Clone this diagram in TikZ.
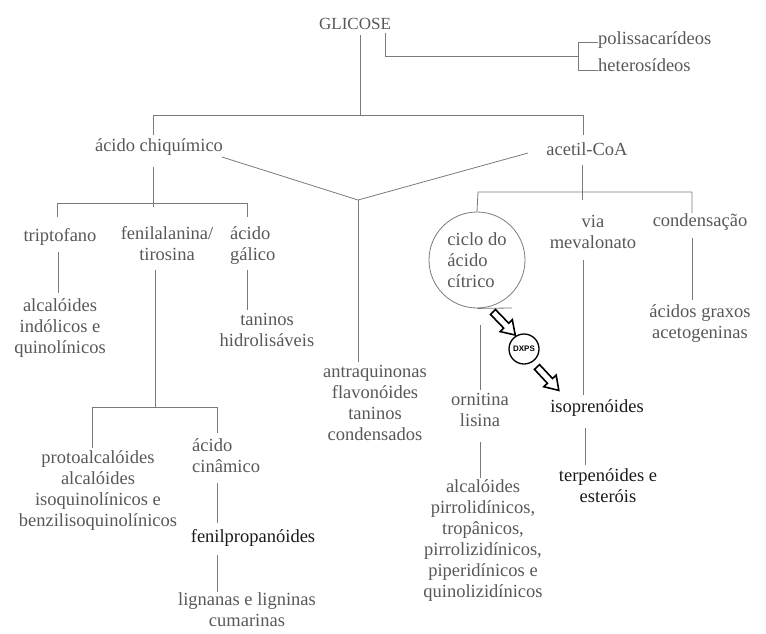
\documentclass[tikz,border=0pt]{standalone}
\usepackage{fontspec}
\setmainfont{Liberation Serif}
\newfontfamily\dxfont{Liberation Sans}
\definecolor{txtgray}{HTML}{585858}
\definecolor{lngray}{HTML}{7A7A7A}
\definecolor{txtdark}{HTML}{1A1A1A}
\begin{document}
\begin{tikzpicture}[x=1pt,y=-1pt,
  lbl/.style={text=txtgray, align=center, inner sep=0pt, font=\fontsize{18.5}{21}\selectfont},
  dark/.style={lbl, text=txtdark},
  conn/.style={draw=lngray, line width=0.8pt},
  harrow/.style={draw=black, fill=white, line width=1.6pt, line join=miter},
  ]
\useasboundingbox (0,0) rectangle (766,633);
% ---------- nodes ----------
\node[lbl, font=\fontsize{17}{20}\selectfont] (glic) at (355,24) {GLICOSE};
\node[lbl, anchor=west] (poli) at (598,40) {polissacarídeos};
\node[lbl, anchor=west] (hete) at (598,65) {heterosídeos};
\node[lbl] (chiq) at (159,147) {ácido chiquímico};
\node[lbl] (acet) at (587,149) {acetil-CoA};
\node[lbl] (trip) at (60,237) {triptofano};
\node[lbl] (feni) at (167,244) {fenilalanina/\\tirosina};
\node[lbl, anchor=west, align=left] (gali) at (230,246) {ácido\\gálico};
\node[lbl] (alcind) at (60,328) {alcalóides\\indólicos e\\quinolínicos};
\node[lbl] (tanh) at (267,330) {taninos\\hidrolisáveis};
\node[lbl] (antra) at (375,403) {antraquinonas\\flavonóides\\taninos\\condensados};
\node[lbl, circle, draw=lngray, line width=0.8pt, minimum size=96pt, align=left] (ciclo) at (477,260) {ciclo do\\ácido\\cítrico};
\node[lbl] (via) at (593,232) {via\\mevalonato};
\node[lbl] (cond) at (700,222) {condensação};
\node[lbl] (acgr) at (700,324) {ácidos graxos\\acetogeninas};
\node[circle, draw=black, line width=1.3pt, minimum size=30pt, inner sep=0pt,
      font=\dxfont\bfseries\fontsize{8}{9}\selectfont] (dxps) at (524,349) {DXPS};
\node[lbl] (orn) at (480,410) {ornitina\\lisina};
\node[dark] (isop) at (597,408) {isoprenóides};
\node[lbl] (alcpir) at (483,541) {alcalóides\\pirrolidínicos,\\tropânicos,\\pirrolizidínicos,\\piperidínicos e\\quinolizidínicos};
\node[dark] (terp) at (608,486) {terpenóides e\\esteróis};
\node[lbl] (proto) at (98,491) {protoalcalóides\\alcalóides\\isoquinolínicos e\\benzilisoquinolínicos};
\node[lbl, anchor=west, align=left] (cina) at (192,456) {ácido\\cinâmico};
\node[dark] (fenp) at (253,538) {fenilpropanóides};
\node[lbl] (lign) at (247,610) {lignanas e ligninas\\cumarinas};
% ---------- junction coordinates ----------
\coordinate (g1) at (360,35);   \coordinate (jtop) at (360,115);
\coordinate (g2) at (385,33);   \coordinate (g2b) at (385,56);  \coordinate (br) at (578,56);
\coordinate (brt) at (578,42);  \coordinate (brb) at (578,70);
\coordinate (tl) at (153,115);  \coordinate (tr) at (583,115);
\coordinate (tlb) at (153,135); \coordinate (trb) at (583,135);
\coordinate (c1) at (153,167);  \coordinate (c2) at (153,207);
\coordinate (hl) at (57,203);   \coordinate (hr) at (247,203);
\coordinate (hlb) at (57,217);  \coordinate (hrb) at (247,217);
\coordinate (d1) at (222,157);  \coordinate (dj) at (358,200);
\coordinate (d2) at (528,153);  \coordinate (dv) at (358,362);
\coordinate (a1) at (582,165);  \coordinate (a2) at (582,200);
\coordinate (al) at (478,192);  \coordinate (ar) at (692,192);
\coordinate (arb) at (692,213);
\coordinate (t1) at (58,252);   \coordinate (t2) at (58,293);
\coordinate (f1) at (155,270);  \coordinate (f2) at (155,408);
\coordinate (fl) at (92,407);   \coordinate (fr) at (217,407);
\coordinate (flb) at (92,448);  \coordinate (frb) at (217,433);
\coordinate (ga1) at (247,270); \coordinate (ga2) at (247,310);
\coordinate (ci1) at (217,483); \coordinate (ci2) at (217,523);
\coordinate (fp1) at (217,555); \coordinate (fp2) at (217,592);
\coordinate (co1) at (692,238); \coordinate (co2) at (692,300);
\coordinate (v1) at (583,260);  \coordinate (v2) at (583,395);
\coordinate (tg) at (512,308);
\coordinate (o1) at (480,325);  \coordinate (o2) at (480,390);
\coordinate (o3) at (480,442);  \coordinate (o4) at (480,478);
\coordinate (i1) at (585,428);  \coordinate (i2) at (585,465);
% ---------- connectors ----------
\draw[conn] (g1) -- (jtop);
\draw[conn] (g2) -- (g2b) -- (br);
\draw[conn] (poli.west |- brt) -- (brt) -- (brb) -- (hete.west |- brb);
\draw[conn] (tlb) -- (tl) -- (tr) -- (trb);
\draw[conn] (c1) -- (c2);
\draw[conn] (hlb) -- (hl) -- (hr) -- (hrb);
\draw[conn] (d1) -- (dj) -- (d2);
\draw[conn] (dj) -- (dv);
\draw[conn] (a1) -- (a2);
\draw[conn] (ciclo.north) -- (al) -- (ar) -- (arb);
\draw[conn] (t1) -- (t2);
\draw[conn] (f1) -- (f2);
\draw[conn] (flb) -- (fl) -- (fr) -- (frb);
\draw[conn] (ga1) -- (ga2);
\draw[conn] (ci1) -- (ci2);
\draw[conn] (fp1) -- (fp2);
\draw[conn] (co1) -- (co2);
\draw[conn] (v1) -- (v2);
\draw[conn] (ciclo.south) -- (tg);
\draw[conn] (o1) -- (o2);
\draw[conn] (o3) -- (o4);
\draw[conn] (i1) -- (i2);
% ---------- hollow arrows ----------
\draw[harrow, shift={(493,312)}, rotate=-46]
  (0,-3.5) -- (19,-3.5) -- (19,-8.5) -- (32,0) -- (19,8.5) -- (19,3.5) -- (0,3.5) -- cycle;
\draw[harrow, shift={(537,367)}, rotate=-47]
  (0,-3.5) -- (19,-3.5) -- (19,-8.5) -- (32,0) -- (19,8.5) -- (19,3.5) -- (0,3.5) -- cycle;
\end{tikzpicture}
\end{document}
